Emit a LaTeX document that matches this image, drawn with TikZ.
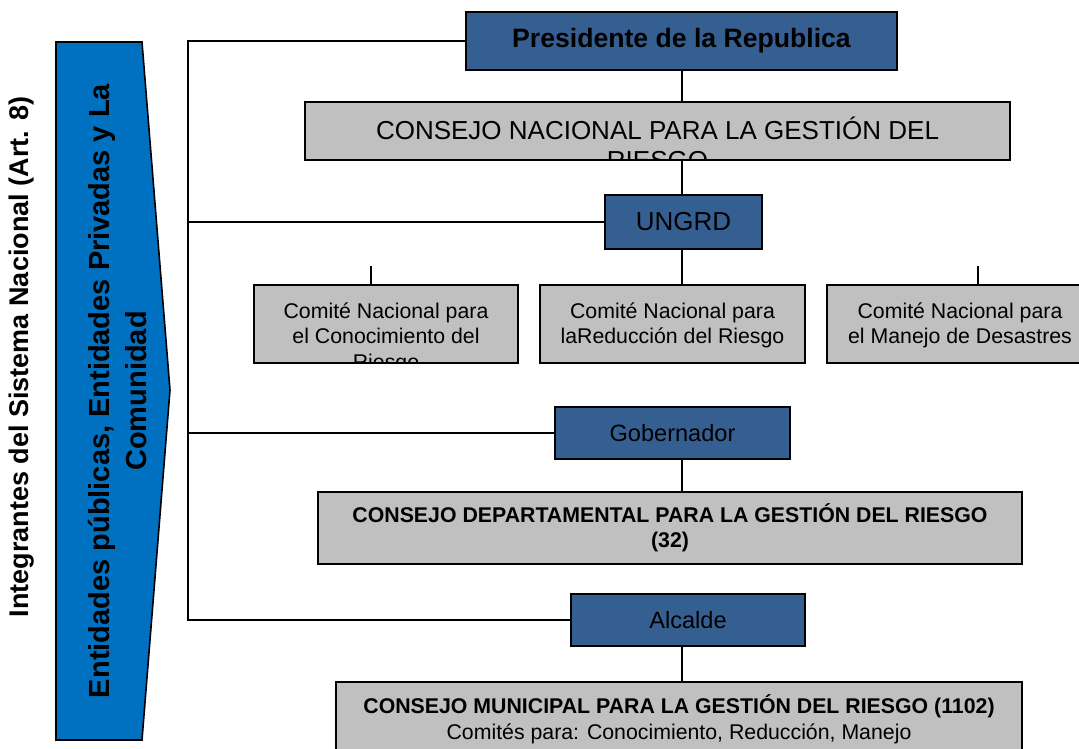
\documentclass[tikz,border=0pt]{standalone}
\usepackage{fontspec}
\setmainfont{Liberation Sans}
\definecolor{boxblue}{RGB}{54,95,145}
\definecolor{arrowblue}{RGB}{0,112,192}
\definecolor{boxgray}{RGB}{192,192,192}
\tikzset{
  bluebox/.style={draw=black, line width=1.6pt, fill=boxblue, inner sep=0pt, text=black, align=center},
  graybox/.style={draw=black, line width=1.6pt, fill=boxgray, inner sep=0pt, text=black, align=center},
  intext/.style={minimum width=0pt, minimum height=0pt, draw=none, fill=none, inner sep=0pt, align=center, anchor=north},
  conn/.style={draw=black, line width=1.3pt},
  brk/.style={draw=black, line width=1.8pt},
  fbig/.style={font=\fontsize{26}{30}\selectfont},
  fmid/.style={font=\fontsize{23.6}{27}\selectfont},
  fsmall/.style={font=\fontsize{21.3}{25.5}\selectfont},
}
\begin{document}
\begin{tikzpicture}[x=1pt, y=-1pt]
\useasboundingbox (0,0) rectangle (1079,749);
\clip (0,0) rectangle (1079,749);
% left arrow
\filldraw[fill=arrowblue, draw=black, line width=1.6pt]
  (56,42) -- (142,42) -- (170,390) -- (142,740) -- (56,740) -- cycle;
\node[rotate=90, font=\fontsize{27}{30}\bfseries\selectfont] (integ) at (22,357) {Integrantes del Sistema Nacional (Art. 8)};
\node[rotate=90, align=center, font=\fontsize{29}{37}\bfseries\selectfont] (ent) at (118,391) {Entidades públicas, Entidades Privadas y La\\Comunidad};
% boxes
\node[bluebox, minimum width=431, minimum height=58, font=\fontsize{26.6}{30}\bfseries\selectfont] (pres) at (681.5,41) {Presidente de la Republica};
\node[graybox, minimum width=705, minimum height=58,
  path picture={\node[intext, fbig] at ([yshift=-14]path picture bounding box.north) {CONSEJO NACIONAL PARA LA GESTIÓN DEL\\RIESGO};}] (cn) at (657.5,131) {};
\node[bluebox, fbig, minimum width=157, minimum height=54] (ungrd) at (683.5,222) {UNGRD};
\node[graybox, minimum width=264, minimum height=78,
  path picture={\node[intext, fsmall] at ([yshift=-17]path picture bounding box.north) {Comité Nacional para\\el Conocimiento del\\Riesgo};}] (c1) at (386,324) {};
\node[graybox, minimum width=265, minimum height=78,
  path picture={\node[intext, fsmall] at ([yshift=-17]path picture bounding box.north) {Comité Nacional para\\laReducción del Riesgo};}] (c2) at (672.5,324) {};
\node[graybox, minimum width=266, minimum height=78,
  path picture={\node[intext, fsmall] at ([yshift=-17]path picture bounding box.north) {Comité Nacional para\\el Manejo de Desastres};}] (c3) at (960,324) {};
\node[bluebox, fmid, minimum width=235, minimum height=52] (gob) at (672.5,433) {Gobernador};
\node[graybox, minimum width=704, minimum height=72, font=\fontsize{21.3}{25}\bfseries\selectfont] (cd) at (670,528) {CONSEJO DEPARTAMENTAL PARA LA GESTIÓN DEL RIESGO\\(32)};
\node[bluebox, fmid, minimum width=234, minimum height=52] (alc) at (688,620) {Alcalde};
\node[graybox, minimum width=686, minimum height=90,
  path picture={\node[intext, fsmall] at ([yshift=-12]path picture bounding box.north) {\bfseries CONSEJO MUNICIPAL PARA LA GESTIÓN DEL RIESGO (1102)\\Comités para: Conocimiento, Reducción, Manejo};}] (cm) at (679,727) {};
% connectors
\coordinate (ax) at (682,0);
\coordinate (bx) at (188,0);
\coordinate (s1) at (371,266);
\coordinate (s3) at (978,266);
\draw[conn] (ax |- pres.south) -- (ax |- cn.north);
\draw[conn] (ax |- cn.south) -- (ax |- ungrd.north);
\draw[conn] (ax |- ungrd.south) -- (ax |- c2.north);
\draw[conn] (s1) -- (s1 |- c1.north);
\draw[conn] (s3) -- (s3 |- c3.north);
\draw[conn] (ax |- gob.south) -- (ax |- cd.north);
\draw[conn] (ax |- alc.south) -- (ax |- cm.north);
% bracket
\draw[brk] (pres.west) -- (pres.west -| bx) -- (alc.west -| bx) -- (alc.west);
\draw[brk] (ungrd.west -| bx) -- (ungrd.west);
\draw[brk] (gob.west -| bx) -- (gob.west);
\end{tikzpicture}
\end{document}
